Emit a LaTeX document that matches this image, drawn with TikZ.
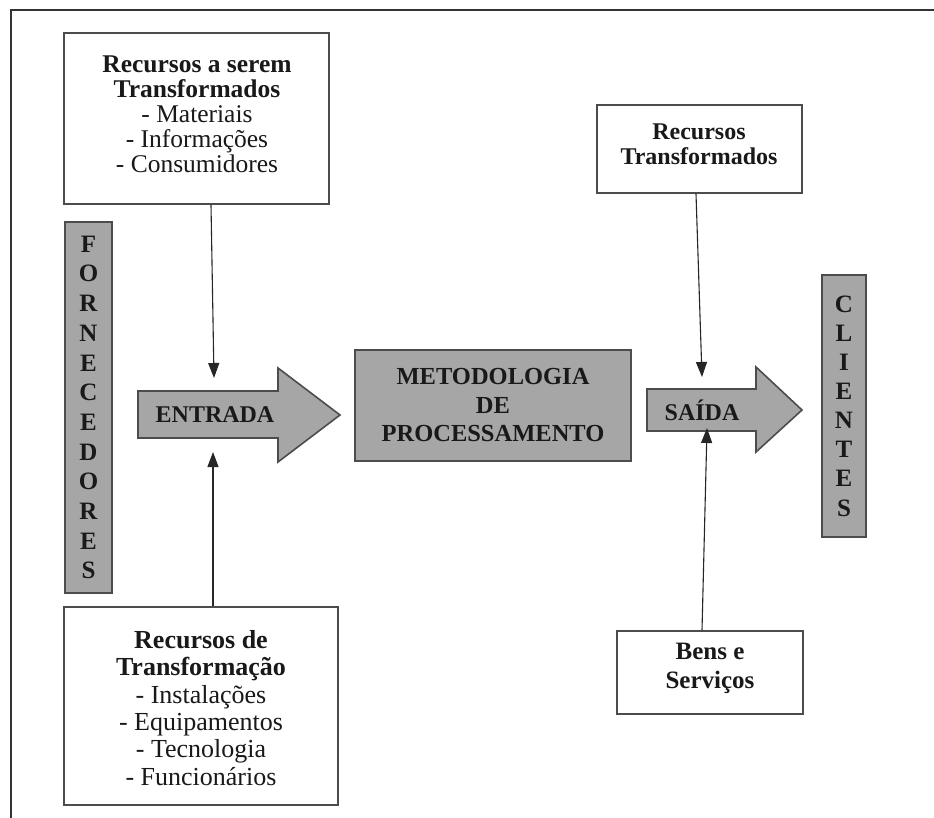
\documentclass[tikz,border=0pt]{standalone}
\usepackage{fontspec}
\setmainfont{Liberation Serif}
\usetikzlibrary{arrows.meta}
\begin{document}
\begin{tikzpicture}[x=1pt,y=-1pt,
  frame/.style={draw=black!80, line width=1.8pt},
  wbox/.style={draw=black!70, line width=1.6pt, fill=white, inner sep=0pt},
  gbox/.style={draw=black!70, line width=1.6pt, fill=black!35, inner sep=0pt},
  conn/.style={draw=black!85, line width=1.1pt, -{Triangle[length=15pt,width=11pt]}},
  lbl/.style={align=center, inner sep=0pt, text=black!90},
]
\useasboundingbox (0,0) rectangle (934,818);
\fill[white] (0,0) rectangle (934,818);
\draw[frame] (11,818) -- (11,10) -- (934,10);

% top-left box
\node[wbox, minimum width=265pt, minimum height=171pt] (rst) at (196.5,118.5) {};
\node[lbl, font=\fontsize{25.5}{25}\selectfont] (rstt) at (197,114)
  {\textbf{Recursos a serem}\\\textbf{Transformados}\\- Materiais\\- Informações\\- Consumidores};

% bottom-left box
\node[wbox, minimum width=274pt, minimum height=198pt] (rdt) at (201,706) {};
\node[lbl, font=\fontsize{26}{27.4}\selectfont] (rdtt) at (201,708)
  {\textbf{Recursos de}\\\textbf{Transformação}\\- Instalações\\- Equipamentos\\- Tecnologia\\- Funcionários};

% fornecedores bar
\node[gbox, minimum width=47pt, minimum height=371pt, lbl, font=\fontsize{25}{29.7}\bfseries] (forn) at (88.5,407.5)
  {F\\O\\R\\N\\E\\C\\E\\D\\O\\R\\E\\S};

% entrada arrow
\path[gbox] (138,391) -- (278,391) -- (278,368) -- (340,415) -- (278,462) -- (278,438) -- (138,438) -- cycle;
\node[lbl, font=\fontsize{24}{24}\bfseries] (entr) at (215,415) {ENTRADA};
\coordinate (entrTop) at (214,378);
\coordinate (entrBot) at (213,452);

% metodologia box
\node[gbox, minimum width=276pt, minimum height=111pt, lbl, font=\fontsize{24.5}{28.5}\bfseries] (met) at (493,405.5)
  {METODOLOGIA\\DE\\PROCESSAMENTO};

% saida arrow
\path[gbox] (647,389) -- (756,389) -- (756,367) -- (802,410) -- (756,452) -- (756,431) -- (647,431) -- cycle;
\node[lbl, font=\fontsize{24}{24}\bfseries] (said) at (702,410) {SAÍDA};
\coordinate (saidTop) at (702,377);
\coordinate (saidBot) at (707,428);

% top-right box
\node[wbox, minimum width=205pt, minimum height=88pt] (rtr) at (699.5,149) {};
\node[lbl, font=\fontsize{24}{25}\bfseries] (rtrt) at (699,144.5) {Recursos\\Transformados};

% bens e servicos box
\node[wbox, minimum width=186pt, minimum height=83pt] (bens) at (710,672.5) {};
\node[lbl, font=\fontsize{25}{29}\bfseries] (benst) at (710,668) {Bens e\\Serviços};

% clientes bar
\node[gbox, minimum width=44pt, minimum height=262pt, lbl, font=\fontsize{25}{29.1}\bfseries] (cli) at (844,406)
  {C\\L\\I\\E\\N\\T\\E\\S};

% connectors
\draw[conn] ([xshift=14.5pt]rst.south) -- (entrTop);
\draw[conn] ([xshift=12pt]rdt.north) -- (entrBot);
\draw[conn] ([xshift=-3.5pt]rtr.south) -- (saidTop);
\draw[conn] ([xshift=-8pt]bens.north) -- (saidBot);
\end{tikzpicture}
\end{document}
